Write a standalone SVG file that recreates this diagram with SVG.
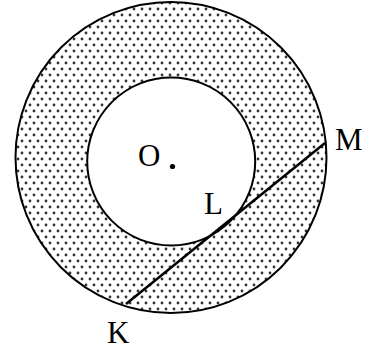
<svg xmlns="http://www.w3.org/2000/svg" width="366" height="351" viewBox="0 0 366 351">
<style>
.ln{fill:none;stroke:#000;stroke-width:2}
.lbl{font-family:"Liberation Serif","Times New Roman",serif;font-size:31px;fill:#000}
</style>
<defs>
<pattern id="dots" x="0" y="0" width="8" height="12" patternUnits="userSpaceOnUse">
<circle cx="2" cy="3" r="1.4" fill="#333"/>
<circle cx="6" cy="9" r="1.4" fill="#333"/>
</pattern>
</defs>
<rect width="366" height="351" fill="#fff"/>
<g id="ring">
<path d="M15.5,157.5 a155.5,155.5 0 1,0 311,0 a155.5,155.5 0 1,0 -311,0 Z M87.2,161.5 a84,84 0 1,0 168,0 a84,84 0 1,0 -168,0 Z" fill="url(#dots)" fill-rule="evenodd"/>
<circle class="ln" cx="171" cy="157.5" r="155.5"/>
<circle class="ln" cx="171.2" cy="161.5" r="84"/>
</g>
<g id="connectors">
<line x1="126" y1="304" x2="325" y2="143" stroke="#000" stroke-width="2.5"/>
</g>
<g id="O">
<circle cx="172.5" cy="166.5" r="2.6" fill="#000"/>
<text class="lbl" x="138" y="166">O</text>
</g>
<g id="L"><text class="lbl" x="204" y="214">L</text></g>
<g id="M"><text class="lbl" x="335" y="150">M</text></g>
<g id="K"><text class="lbl" x="107" y="343">K</text></g>
</svg>
